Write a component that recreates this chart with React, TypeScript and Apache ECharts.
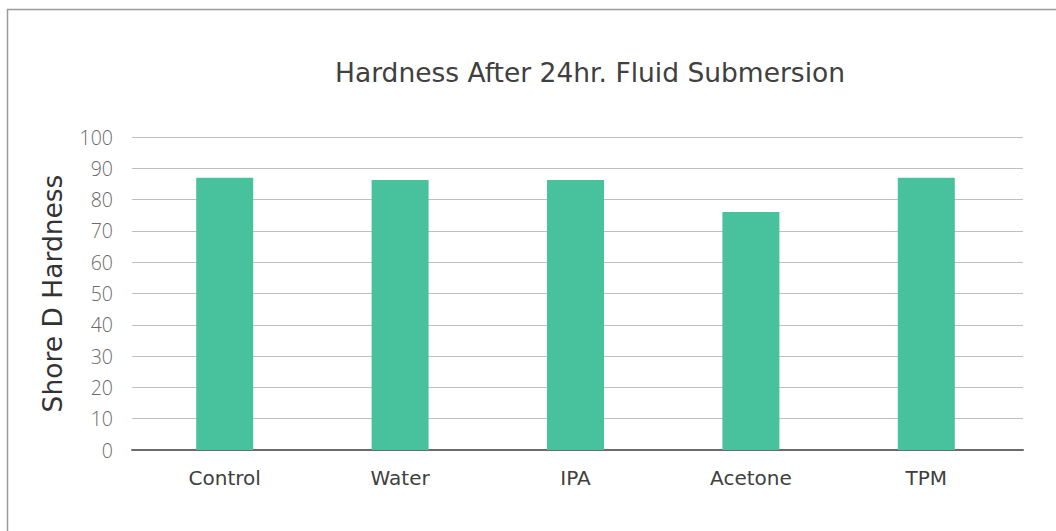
import React, { useEffect, useRef } from "react";
import * as echarts from "echarts";

const categories = ["Control", "Water", "IPA", "Acetone", "TPM"];
const hardness = [87, 86.3, 86.3, 76, 87];
const yTicks = { min: 0, max: 100, interval: 10 };
const titleText = "Hardness After 24hr. Fluid Submersion";
const yAxisName = "Shore D Hardness";

export default function App() {
  const ref = useRef<HTMLDivElement>(null);
  useEffect(() => {
    if (!ref.current) return;
    const chart = echarts.init(ref.current, undefined, { renderer: "svg" });
    chart.setOption({
      animation: false,
      backgroundColor: "#ffffff",
      title: {
        text: titleText,
        left: 585,
        top: 54,
        textAlign: "center",
        textStyle: {
          fontFamily: "DejaVu Sans",
          fontSize: 26.5,
          fontWeight: "normal",
          color: "#404040",
        },
      },
      graphic: [
        {
          type: "rect",
          shape: { x: 7.5, y: 9.5, width: 1100, height: 600 },
          style: { fill: "none", stroke: "#9a9a9a", lineWidth: 1.5 },
          silent: true,
        },
      ],
      grid: [
        { left: 132, right: 33, top: 137, bottom: 81 },
        { left: 137, right: 42, top: 137, bottom: 81 },
      ],
      xAxis: [
        {
          type: "category",
          gridIndex: 0,
          data: categories,
          axisTick: { show: false },
          axisLabel: { show: false },
          axisLine: { show: true, lineStyle: { color: "#6b6b6b", width: 2 } },
        },
        {
          type: "category",
          gridIndex: 1,
          data: categories,
          axisTick: { show: false },
          axisLine: { show: false },
          axisLabel: {
            margin: 18,
            fontFamily: "DejaVu Sans",
            fontSize: 20,
            color: "#404040",
          },
        },
      ],
      yAxis: [
        {
          type: "value",
          gridIndex: 0,
          min: yTicks.min,
          max: yTicks.max,
          interval: yTicks.interval,
          name: yAxisName,
          nameLocation: "middle",
          nameGap: 66,
          nameTextStyle: {
            fontFamily: "DejaVu Sans",
            fontSize: 26.5,
            color: "#333333",
          },
          axisLine: { show: false },
          axisTick: { show: false },
          axisLabel: {
            margin: 19,
            fontFamily: "Open Sans",
            fontWeight: 300,
            fontSize: 19.5,
            color: "#6a6a6a",
          },
          splitLine: { lineStyle: { color: "#bfbfbf", width: 1 } },
        },
        {
          type: "value",
          gridIndex: 1,
          min: yTicks.min,
          max: yTicks.max,
          interval: yTicks.interval,
          show: false,
          splitLine: { show: false },
        },
      ],
      series: [
        {
          type: "bar",
          xAxisIndex: 1,
          yAxisIndex: 1,
          data: hardness,
          barWidth: 57,
          itemStyle: { color: "#48c19d" },
        },
      ],
    });
    return () => chart.dispose();
  }, []);
  return (
    <div
      ref={ref}
      style={{ position: "fixed", left: 0, top: 0, width: 1056, height: 531 }}
    />
  );
}
